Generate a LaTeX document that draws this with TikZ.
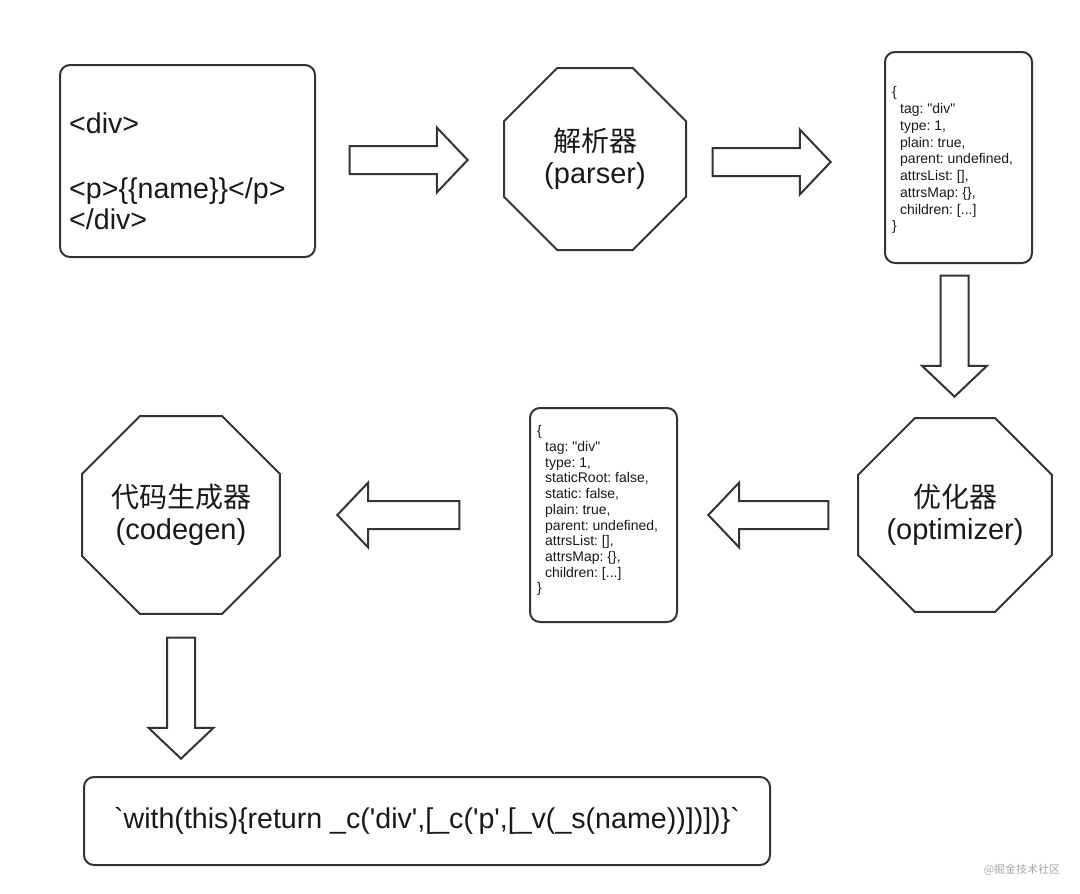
\documentclass[tikz,border=0pt]{standalone}
\usepackage{fontspec}
\setmainfont{Liberation Sans}
\newfontfamily\cjk{Noto Sans CJK SC}
\usetikzlibrary{shapes.geometric,shapes.arrows}
\definecolor{edge}{RGB}{51,51,51}
\definecolor{ink}{RGB}{25,25,25}
\frenchspacing
\begin{document}
\begin{tikzpicture}[x=1pt,y=-1pt,
  outline/.style={draw=edge, line width=2pt},
  card/.style={outline, rounded corners=10pt, inner sep=0pt},
  octa/.style={outline, regular polygon, regular polygon sides=8, inner sep=0pt,
    align=center, font=\fontsize{29}{32}\selectfont, text=ink},
  blockarrow/.style={outline, single arrow, inner sep=13pt, minimum width=1pt,
    single arrow head extend=18.5pt, single arrow tip angle=93, minimum height=#1},
  big/.style={font=\fontsize{28.6}{32}\selectfont, text=ink, inner sep=0pt},
  json/.style={font=\fontsize{14}{16.75}\selectfont, text=ink, inner sep=0pt,
    align=left, anchor=north west}
]
\useasboundingbox (0,0) rectangle (1080,894);

% boxes
\node[card, minimum width=255, minimum height=192] (src) at (187.5,161) {};
\node[card, minimum width=147, minimum height=211] (ast) at (958.5,157.5) {};
\node[card, minimum width=147, minimum height=214] (oast) at (603.5,515) {};
\node[card, minimum width=686, minimum height=88] (code) at (427,821) {};

% source text
\node[big, anchor=base west] (s1) at (69,133) {<div>};
\node[big, anchor=base west] (s2) at (69,198) {<p>\{\{name\}\}</p>};
\node[big, anchor=base west] (s3) at (69,229) {</div>};

% ast texts
\node[json] (astt) at (892,86.5) {\{\\
\hspace*{8pt}tag: \textquotedbl div\textquotedbl\\
\hspace*{8pt}type: 1,\\
\hspace*{8pt}plain: true,\\
\hspace*{8pt}parent: undefined,\\
\hspace*{8pt}attrsList: [],\\
\hspace*{8pt}attrsMap: \{\},\\
\hspace*{8pt}children: [...]\\
\}};
\node[json, font=\fontsize{14}{15.7}\selectfont] (oastt) at (537,425.5) {\{\\
\hspace*{8pt}tag: \textquotedbl div\textquotedbl\\
\hspace*{8pt}type: 1,\\
\hspace*{8pt}staticRoot: false,\\
\hspace*{8pt}static: false,\\
\hspace*{8pt}plain: true,\\
\hspace*{8pt}parent: undefined,\\
\hspace*{8pt}attrsList: [],\\
\hspace*{8pt}attrsMap: \{\},\\
\hspace*{8pt}children: [...]\\
\}};

% code text
\node[big] (codet) at (code.center) {\textasciigrave with(this)\{return \_c(\textquotesingle div\textquotesingle,[\_c(\textquotesingle p\textquotesingle,[\_v(\_s(name))])])\}\textasciigrave};

% octagons
\node[octa, minimum size=197] (parser) at (595,159) {{\cjk\fontsize{28}{32}\selectfont 解析器}\\(parser)};
\node[octa, minimum size=203] (opt) at (955,515) {{\cjk\fontsize{28}{32}\selectfont 优化器}\\(optimizer)};
\node[octa, minimum size=202] (gen) at (181,515) {{\cjk\fontsize{28}{32}\selectfont 代码生成器}\\(codegen)};

% block arrows
\node[blockarrow=118] (a1) at (402,160) {};
\node[blockarrow=118] (a2) at (765,162) {};
\node[blockarrow=121, rotate=-90] (a3) at (954.5,329.5) {};
\node[blockarrow=120, rotate=180] (a4) at (775,515) {};
\node[blockarrow=122, rotate=180] (a5) at (405,515) {};
\node[blockarrow=121, rotate=-90] (a6) at (181,691.5) {};

% watermark
\node[font=\cjk\fontsize{11}{12}\selectfont, text=gray!70, inner sep=0pt] (wm) at (1022,870) {@掘金技术社区};
\end{tikzpicture}
\end{document}
